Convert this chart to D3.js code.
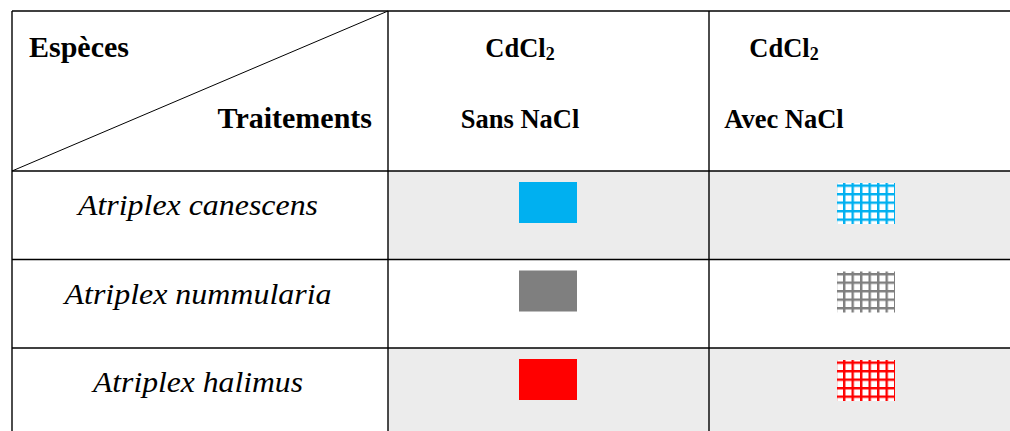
<!DOCTYPE html>
<html>
  <head>
    <meta charset="utf-8" />
    <title>Légende</title>
    <script src="https://d3js.org/d3.v7.min.js"></script>
    <style>
      body {
        margin: 0;
        background: #fff;
      }
    </style>
  </head>
  <body>

    <svg id="legend"></svg>

    <script>

      // données de la légende
      var species = ["Atriplex canescens", "Atriplex nummularia", "Atriplex halimus"];
      var treatments = ["Sans NaCl", "Avec NaCl"];
      var salt = ["CdCl", "CdCl"];
      var colors = ["#00b0f0", "#7f7f7f", "#ff0000"];
      var shaded = [true, false, true];

      var width = 1010;
      var height = 431;
      var tableTop = 11, tableLeft = 12, split = 388;
      var headerBottom = 171;
      var rowHeight = 88.5;
      var lineColor = "#000";

      var svg = d3.select("#legend")
        .attr("width", width)
        .attr("height", height)
        .style("display", "block");

      var y = d3.scaleBand()
        .domain(species)
        .range([headerBottom, headerBottom + rowHeight * species.length]);

      var x = d3.scaleBand()
        .domain(treatments)
        .range([split + 1, 1025]);

      var swW = 58, swH = 41;

      // motifs quadrillés (colonne "Avec NaCl")
      var defs = svg.append("defs");
      species.forEach(function(s, i) {
        var sx = x(treatments[1]) + x.bandwidth() / 2 - swW / 2;
        var sy = y(s) + 12;
        var p = defs.append("pattern")
          .attr("id", "grid" + i)
          .attr("patternUnits", "userSpaceOnUse")
          .attr("x", sx + 6)
          .attr("y", sy + 1.5)
          .attr("width", 8.5)
          .attr("height", 8.5);
        p.append("rect").attr("width", 8.5).attr("height", 8.5).attr("fill", "#fff");
        p.append("rect").attr("x", 0).attr("y", 0).attr("width", 2.4).attr("height", 8.5).attr("fill", colors[i]);
        p.append("rect").attr("x", 0).attr("y", 0).attr("width", 8.5).attr("height", 2.4).attr("fill", colors[i]);
      });

      // fond gris des lignes 1 et 3
      svg.selectAll(".shade")
        .data(species.filter(function(d, i) { return shaded[i]; }))
        .enter().append("rect")
        .attr("class", "shade")
        .attr("x", split)
        .attr("y", function(d) { return y(d); })
        .attr("width", width - split)
        .attr("height", y.bandwidth())
        .attr("fill", "#ececec");

      // carrés pleins
      svg.selectAll(".solid")
        .data(species)
        .enter().append("rect")
        .attr("class", "solid")
        .attr("x", x(treatments[0]) + x.bandwidth() / 2 - swW / 2)
        .attr("y", function(d) { return y(d) + 11; })
        .attr("width", swW)
        .attr("height", swH)
        .attr("fill", function(d, i) { return colors[i]; });

      // carrés quadrillés
      svg.selectAll(".hatched")
        .data(species)
        .enter().append("rect")
        .attr("class", "hatched")
        .attr("x", x(treatments[1]) + x.bandwidth() / 2 - swW / 2)
        .attr("y", function(d) { return y(d) + 12; })
        .attr("width", swW)
        .attr("height", swH)
        .attr("fill", function(d, i) { return "url(#grid" + i + ")"; });

      // lignes du tableau
      var g = svg.append("g")
        .attr("stroke", lineColor)
        .attr("stroke-width", 1.4);

      var hLines = [tableTop, headerBottom].concat(species.slice(1).map(function(d) { return y(d); }));
      g.selectAll(".h")
        .data(hLines)
        .enter().append("line")
        .attr("x1", tableLeft).attr("x2", width)
        .attr("y1", function(d) { return d; })
        .attr("y2", function(d) { return d; });

      var vLines = [tableLeft, split, x(treatments[1]) + 2];
      g.selectAll(".v")
        .data(vLines)
        .enter().append("line")
        .attr("x1", function(d) { return d; })
        .attr("x2", function(d) { return d; })
        .attr("y1", tableTop).attr("y2", height);

      g.append("line")
        .attr("x1", tableLeft).attr("y1", headerBottom)
        .attr("x2", split).attr("y2", tableTop)
        .attr("stroke-width", 1);

      // en-têtes
      var serif = "'Liberation Serif', 'Times New Roman', serif";

      svg.append("text")
        .attr("x", 29).attr("y", 57)
        .attr("font-family", serif).attr("font-weight", "bold")
        .attr("font-size", 30)
        .text("Espèces");

      svg.append("text")
        .attr("x", 372).attr("y", 128)
        .attr("text-anchor", "end")
        .attr("font-family", serif).attr("font-weight", "bold")
        .attr("font-size", 30)
        .text("Traitements");

      var headX = [520, 784];
      treatments.forEach(function(t, i) {
        var c = svg.append("text")
          .attr("x", headX[i]).attr("y", 57)
          .attr("text-anchor", "middle")
          .attr("font-family", serif).attr("font-weight", "bold")
          .attr("font-size", 26.5);
        c.append("tspan").text(salt[i]);
        c.append("tspan").attr("font-size", 18).attr("dy", 2.5).text("2");

        svg.append("text")
          .attr("x", headX[i]).attr("y", 128)
          .attr("text-anchor", "middle")
          .attr("font-family", serif).attr("font-weight", "bold")
          .attr("font-size", 26.5)
          .text(t);
      });

      // noms d'espèces
      var nameW = [240, 267, 210];
      svg.selectAll(".name")
        .data(species)
        .enter().append("text")
        .attr("class", "name")
        .attr("x", 198)
        .attr("y", function(d) { return y(d) + 44; })
        .attr("text-anchor", "middle")
        .attr("font-family", serif)
        .attr("font-style", "italic")
        .attr("font-size", 29)
        .attr("textLength", function(d, i) { return nameW[i]; })
        .attr("lengthAdjust", "spacingAndGlyphs")
        .text(function(d) { return d; });

    </script>
  </body>
</html>
